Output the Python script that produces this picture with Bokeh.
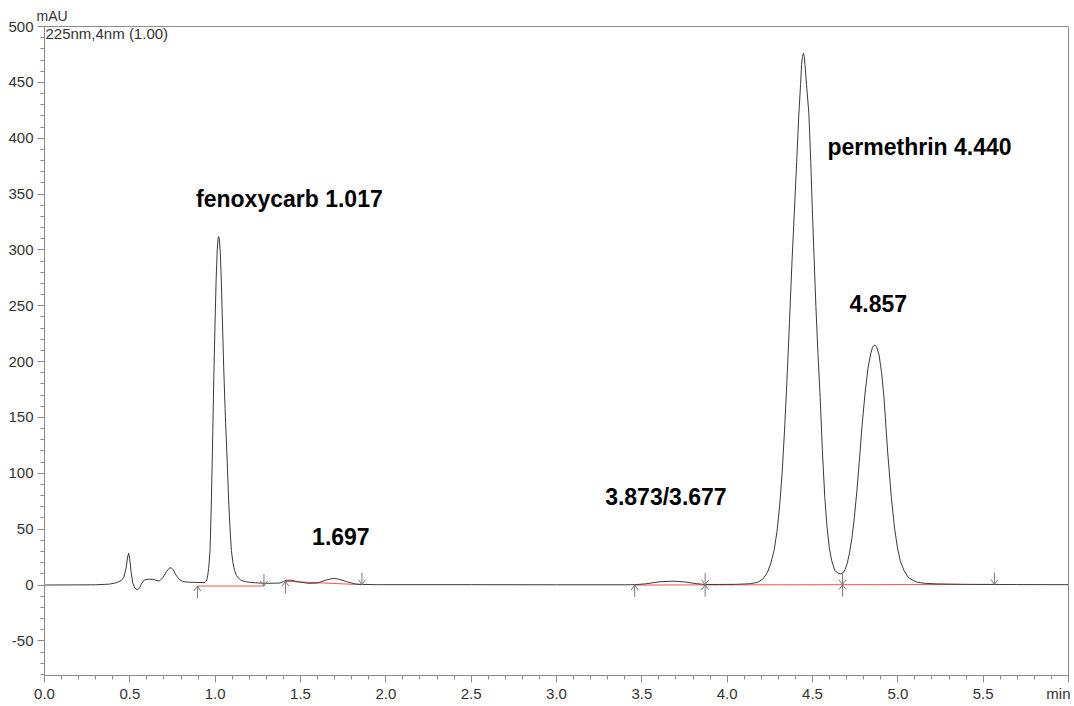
import numpy as np
from bokeh.plotting import figure
from bokeh.models import Label, FixedTicker, NumeralTickFormatter, CustomJSTickFormatter, Range1d
from bokeh.embed import file_html
from bokeh.resources import INLINE

# ---------------- data ----------------
time_min = [
    0.00, 0.30, 0.38, 0.42, 0.45, 0.465, 0.478, 0.487, 0.493, 0.499, 0.507, 0.517,
    0.530, 0.543, 0.555, 0.568, 0.585, 0.61, 0.64, 0.66, 0.675, 0.695, 0.715, 0.730,
    0.742, 0.755, 0.77, 0.79, 0.81, 0.83, 0.87, 0.90, 0.93, 0.940, 0.948, 0.955,
    0.962, 0.970, 0.977, 0.984, 0.992, 1.000, 1.006, 1.012, 1.017, 1.020, 1.024,
    1.030, 1.036, 1.042, 1.050, 1.058, 1.068, 1.080, 1.088, 1.095, 1.104, 1.114,
    1.125, 1.137, 1.149, 1.17, 1.20, 1.237, 1.30, 1.38, 1.40, 1.415, 1.44, 1.47,
    1.50, 1.55, 1.60, 1.65, 1.695, 1.73, 1.77, 1.82, 1.86, 1.95, 2.5, 3.0, 3.40,
    3.458, 3.52, 3.60, 3.68, 3.75, 3.82, 3.87, 3.95, 4.05, 4.10, 4.138, 4.18, 4.21,
    4.235, 4.255, 4.275, 4.292, 4.307, 4.322, 4.336, 4.350, 4.365, 4.380, 4.393, 4.407,
    4.420, 4.430, 4.436, 4.441, 4.447, 4.452, 4.456, 4.465, 4.479, 4.490, 4.500,
    4.510, 4.520, 4.532, 4.545, 4.558, 4.572, 4.585, 4.598, 4.612, 4.630, 4.650,
    4.666, 4.676, 4.690, 4.703, 4.716, 4.730, 4.745, 4.760, 4.775, 4.790, 4.808,
    4.825, 4.841, 4.852, 4.864, 4.876, 4.890, 4.905, 4.919, 4.940, 4.962, 4.980,
    4.997, 5.015, 5.036, 5.06, 5.09, 5.114, 5.16, 5.23, 5.40, 5.566, 5.70, 6.00,
]
absorbance_mau = [
    0.0, 0.2, 0.8, 2.0, 4.0, 7.0, 15.0, 25.0, 28.5, 24.0, 12.0, 2.0,
    -3.0, -4.2, -3.0, 1.0, 4.5, 5.2, 5.0, 3.8, 3.8, 7.0, 12.0, 15.0,
    15.5, 13.5, 9.0, 5.0, 3.2, 2.7, 2.4, 2.3, 2.2, 2.2, 3.5, 7.0,
    15.0, 31.0, 70.0, 120.0, 185.0, 239.0, 275.0, 300.0, 310.0, 312.0, 310.0,
    298.0, 272.0, 239.0, 195.0, 158.0, 120.0, 72.0, 48.0, 31.0, 20.0, 13.0,
    8.5, 6.0, 4.5, 3.2, 2.5, 2.0, 1.5, 1.8, 3.0, 4.2, 4.3, 3.5,
    2.5, 1.5, 1.8, 4.5, 6.0, 5.0, 3.0, 1.0, 0.5, 0.3, 0.3, 0.2, 0.2,
    0.3, 1.0, 2.8, 3.5, 2.8, 1.2, 0.5, 0.5, 0.6, 0.9, 1.2, 2.5, 5.5,
    11.0, 19.0, 31.0, 48.0, 70.0, 100.0, 138.0, 182.0, 235.0, 290.0, 332.0, 378.0,
    421.6, 448.0, 466.0, 473.0, 476.0, 473.0, 466.0, 448.0, 421.6, 378.0, 332.0,
    290.0, 249.0, 207.0, 167.6, 120.0, 78.4, 52.0, 33.9, 22.0, 13.1, 10.5,
    10.0, 10.5, 13.5, 19.0, 28.0, 41.0, 60.0, 84.0, 112.0, 142.0, 172.0,
    194.0, 207.0, 213.0, 215.0, 213.0, 206.0, 190.0, 167.6, 120.0, 78.4, 52.0,
    33.9, 21.0, 13.1, 7.0, 4.0, 2.5, 1.5, 1.0, 0.6, 0.5, 0.4, 0.3,
]

# integration baselines (start time, start level, end time, end level)
base_t0 = [0.896, 1.412, 3.458]
base_v0 = [-0.9, 3.3, 0.0]
base_t1 = [1.286, 1.860, 5.566]
base_v1 = [-0.9, 0.3, 0.5]

# peak start / end event marks
event_time = [0.896, 1.286, 1.412, 1.860, 3.458, 3.871, 4.676, 5.566]
event_level = [-0.9, -0.9, 3.3, 0.3, 0.0, 0.2, 0.3, 0.5]
event_kind = ["start", "end", "start", "end", "start", "both", "both", "end"]

# peak labels
peak_text = ["fenoxycarb 1.017", "1.697", "3.873/3.677", "permethrin 4.440", "4.857"]
peak_label_t = [0.888, 1.568, 3.285, 4.588, 4.717]
peak_label_v = [346.0, 43.0, 79.0, 392.0, 252.0]

x_major = [0.0, 0.5, 1.0, 1.5, 2.0, 2.5, 3.0, 3.5, 4.0, 4.5, 5.0, 5.5, 6.0]
y_major = [-50, 0, 50, 100, 150, 200, 250, 300, 350, 400, 450, 500]

# ---------------- figure ----------------
X0, X1 = 0.0, 6.0
Y0, Y1 = -81.0, 500.0
W, H = 1070, 704
BL, BR, BT, BB = 44, 2, 26, 25

p = figure(width=W, height=H, x_range=Range1d(X0, X1), y_range=Range1d(Y0, Y1),
           output_backend="svg", toolbar_location=None,
           min_border_left=BL, min_border_right=BR, min_border_top=BT, min_border_bottom=BB)
p.xgrid.visible = False
p.ygrid.visible = False
p.outline_line_color = "#8c8c8c"
p.background_fill_color = "white"
p.border_fill_color = "white"

# "mAU" caption above the y axis
p.title.text = "mAU"
p.title.align = "left"
p.title.offset = -8
p.title.standoff = 5
p.title.text_font = "Liberation Sans"
p.title.text_font_size = "14px"
p.title.text_font_style = "normal"
p.title.text_color = "#333333"

ax_col = "#8c8c8c"
for ax in (p.xaxis[0], p.yaxis[0]):
    ax.axis_line_color = ax_col
    ax.major_tick_line_color = ax_col
    ax.minor_tick_line_color = ax_col
    ax.major_tick_out = 7
    ax.major_tick_in = 0
    ax.minor_tick_out = 4
    ax.minor_tick_in = 0
    ax.major_label_text_font = "Liberation Sans"
    ax.major_label_text_font_size = "15px"
    ax.major_label_text_color = "#333333"
p.xaxis[0].major_label_standoff = 2
p.yaxis[0].major_label_standoff = 4

p.xaxis[0].ticker = FixedTicker(ticks=x_major,
                                minor_ticks=[round(v, 1) for v in np.arange(X0, X1 + 0.001, 0.1)])
p.xaxis[0].formatter = CustomJSTickFormatter(
    code="return tick > 5.99 ? 'min' : tick.toFixed(1);")
p.yaxis[0].ticker = FixedTicker(ticks=y_major, minor_ticks=list(range(-80, 501, 10)))
p.yaxis[0].formatter = NumeralTickFormatter(format="0")

# integration baselines
p.segment(x0=base_t0, y0=base_v0, x1=base_t1, y1=base_v1, line_color="#ff4d4d", line_width=1)

# trace
p.line(time_min, absorbance_mau, line_color="#3a3a3a", line_width=1)

# event arrows
frame_w = W - BL - BR
frame_h = H - BT - BB
sx = (X1 - X0) / frame_w
sy = (Y1 - Y0) / frame_h
stem, arm_dx, arm_dy = 12, 3.5, 5

xs0, ys0, xs1, ys1 = [], [], [], []
for t, v, k in zip(event_time, event_level, event_kind):
    dirs = []
    if k in ("start", "both"):
        dirs.append(-1)   # arrow below, pointing up
    if k in ("end", "both"):
        dirs.append(1)    # arrow above, pointing down
    for d in dirs:
        xs0.append(t); ys0.append(v); xs1.append(t); ys1.append(v + d * stem * sy)
        for s in (-1, 1):
            xs0.append(t); ys0.append(v)
            xs1.append(t + s * arm_dx * sx); ys1.append(v + d * arm_dy * sy)
p.segment(x0=xs0, y0=ys0, x1=xs1, y1=ys1, line_color="#7a7a7a", line_width=1)

# peak labels
for txt, t, v in zip(peak_text, peak_label_t, peak_label_v):
    p.add_layout(Label(x=t, y=v, text=txt, text_font="Liberation Sans",
                       text_font_style="bold", text_font_size="23px",
                       text_color="black", text_baseline="middle", text_align="left"))

# detector caption inside the frame
p.add_layout(Label(x=X0, y=Y1, x_offset=1, y_offset=-7, text="225nm,4nm (1.00)",
                   text_font="Liberation Sans", text_font_size="15px", text_color="#333333",
                   text_baseline="middle", text_align="left"))

open("out.html", "w").write(file_html(p, INLINE))
